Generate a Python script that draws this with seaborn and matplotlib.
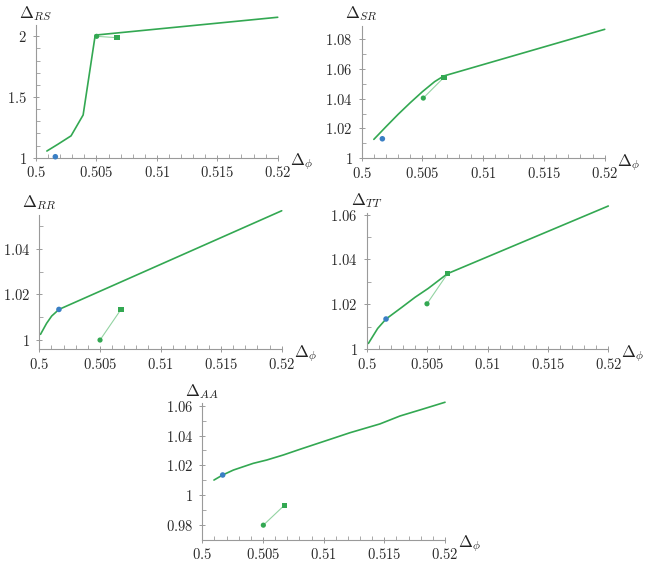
import numpy as np
import matplotlib
matplotlib.use("Agg")
import matplotlib.pyplot as plt
import matplotlib.ticker as mticker
import seaborn as sns

# ---- data ----
rs_x = [0.5009, 0.5018, 0.5029, 0.5039, 0.5049, 0.52]
rs_y = [1.055, 1.11, 1.18, 1.352, 2.01, 2.157]
rs_blue = (0.5016, 1.008)
rs_circle = (0.50502, 2.0)
rs_square = (0.50668, 1.989)

sr_x = [0.501, 0.502, 0.503, 0.504, 0.505, 0.506, 0.50675, 0.52]
sr_y = [1.0127, 1.0212, 1.0295, 1.0373, 1.0447, 1.0514, 1.0552, 1.0865]
sr_blue = (0.5017, 1.0131)
sr_circle = (0.50507, 1.0404)
sr_square = (0.50677, 1.0543)

rr_x = [0.5001, 0.5006, 0.50102, 0.50162, 0.52]
rr_y = [1.0025, 1.0073, 1.0105, 1.0134, 1.0566]
rr_blue = (0.50162, 1.0134)
rr_circle = (0.50501, 1.0)
rr_square = (0.50674, 1.0134)

tt_x = [0.50014, 0.50091, 0.5016, 0.5029, 0.504, 0.5051, 0.5067, 0.52]
tt_y = [1.0025, 1.0092, 1.0134, 1.0186, 1.0231, 1.0271, 1.0337, 1.0639]
tt_blue = (0.5016, 1.0134)
tt_circle = (0.50499, 1.0202)
tt_square = (0.5067, 1.0337)

aa_x = [0.50096, 0.50168, 0.50256, 0.5042, 0.5053, 0.50668, 0.50805, 0.5108,
        0.51217, 0.51464, 0.51629, 0.5182, 0.52]
aa_y = [1.0102, 1.0136, 1.0169, 1.0214, 1.0236, 1.0270, 1.0308, 1.0382,
        1.0419, 1.0478, 1.0531, 1.0578, 1.0623]
aa_blue = (0.50168, 1.0136)
aa_circle = (0.50503, 0.98)
aa_square = (0.50676, 0.9933)

GREEN = "#33a852"
LIGHT = "#93d3a2"
BLUE = "#3a7fc4"
AXC = "#9a9a9a"

sns.set_theme(style="ticks")
plt.rcParams["mathtext.fontset"] = "cm"
plt.rcParams["font.family"] = ["DejaVu Serif"]

W, H = 648, 572
fig = plt.figure(figsize=(W / 100, H / 100), dpi=100)


def fmt(v, pos):
    s = f"{v:.3f}".rstrip("0").rstrip(".")
    return f"${s}$"


def panel(px, ylim, ymaj, ymin, name, xs, ys, blue, circ, sq):
    left, right, top, bottom = px
    ax = fig.add_axes([left / W, 1 - bottom / H, (right - left) / W, (bottom - top) / H])
    ax.set_facecolor("none")
    sns.lineplot(x=xs, y=ys, ax=ax, color=GREEN, lw=1.2, sort=False, clip_on=False)
    sns.lineplot(x=[circ[0], sq[0]], y=[circ[1], sq[1]], ax=ax, color=LIGHT, lw=0.8)
    sns.scatterplot(x=[blue[0]], y=[blue[1]], ax=ax, color=BLUE, s=16,
                    edgecolor="none", zorder=5, clip_on=False)
    sns.scatterplot(x=[circ[0]], y=[circ[1]], ax=ax, color=GREEN, s=14,
                    edgecolor="none", zorder=5, clip_on=False)
    sns.scatterplot(x=[sq[0]], y=[sq[1]], ax=ax, color=GREEN, marker="s", s=16,
                    edgecolor="none", zorder=5, clip_on=False)
    ax.set_xlim(0.5, 0.52)
    ax.set_ylim(*ylim)
    sns.despine(ax=ax)
    for sp in ("left", "bottom"):
        ax.spines[sp].set_color(AXC)
        ax.spines[sp].set_linewidth(0.8)
    ax.xaxis.set_major_locator(mticker.MultipleLocator(0.005))
    ax.xaxis.set_minor_locator(mticker.MultipleLocator(0.001))
    ax.yaxis.set_major_locator(mticker.MultipleLocator(ymaj))
    ax.yaxis.set_minor_locator(mticker.MultipleLocator(ymin))
    ax.xaxis.set_major_formatter(mticker.FuncFormatter(fmt))
    ax.yaxis.set_major_formatter(mticker.FuncFormatter(fmt))
    ax.tick_params(which="major", direction="inout", length=5, width=0.7,
                   color=AXC, labelsize=10.5, labelcolor="#2a2a2a")
    ax.tick_params(which="minor", direction="in", length=3, width=0.6, color=AXC)
    ax.tick_params(axis="x", which="major", pad=3)
    ax.tick_params(axis="y", which="major", pad=4)
    ax.set_xlabel("")
    ax.set_ylabel("")
    ax.annotate(rf"$\Delta_{{{name}}}$", xy=(0, 1), xycoords="axes fraction",
                xytext=(0, 2), textcoords="offset points", ha="center",
                va="bottom", fontsize=12, color="#222222")
    ax.annotate(r"$\Delta_{\phi}$", xy=(1, 0), xycoords="axes fraction",
                xytext=(9, -3), textcoords="offset points", ha="left",
                va="center", fontsize=12, color="#222222")
    return ax


panel((36, 277.7, 25.4, 157.7), (1, 2.09), 0.5, 0.1, "RS",
      rs_x, rs_y, rs_blue, rs_circle, rs_square)
panel((361.7, 604.7, 25.6, 158.3), (1, 1.089), 0.02, 0.01, "SR",
      sr_x, sr_y, sr_blue, sr_circle, sr_square)
panel((39.3, 281.7, 215.1, 349.4), (0.9959, 1.0547), 0.02, 0.01, "RR",
      rr_x, rr_y, rr_blue, rr_circle, rr_square)
panel((366.7, 608.3, 212.5, 349), (1, 1.061), 0.02, 0.01, "TT",
      tt_x, tt_y, tt_blue, tt_circle, tt_square)
panel((202.3, 445, 403.3, 539.8), (0.9702, 1.0616), 0.02, 0.01, "AA",
      aa_x, aa_y, aa_blue, aa_circle, aa_square)

fig.savefig("out.png", dpi=100)
